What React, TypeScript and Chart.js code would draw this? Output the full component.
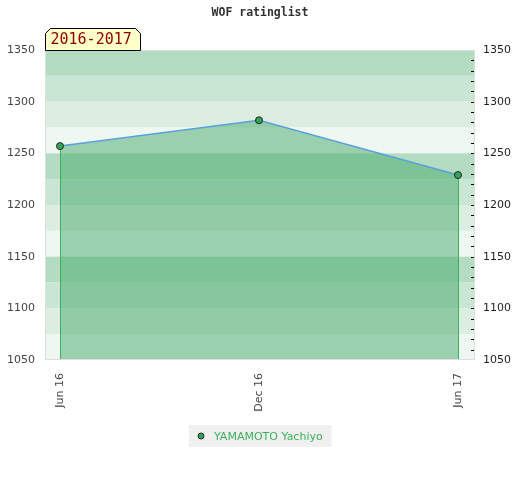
import React, { useEffect, useRef } from "react";
import { Chart, registerables } from "chart.js";

Chart.register(...registerables);

const chartTitle = "WOF ratinglist";
const periodLabel = "2016-2017";
const seriesName = "YAMAMOTO Yachiyo";
const categories = ["Jun 16", "Dec 16", "Jun 17"];
const xPositions = [0, 1, 2];
const ratings = [1257, 1282, 1229];
const yMin = 1050;
const yMax = 1350;
const majorStep = 50;
const bandStep = 25;
const minorStep = 10;
const bandColors = [
  "rgb(179,220,194)",
  "rgb(201,229,212)",
  "rgb(220,238,226)",
  "rgb(239,247,242)",
];

export default function App() {
  const canvasRef = useRef<HTMLCanvasElement | null>(null);

  useEffect(() => {
    document.body.style.margin = "0";
    const canvas = canvasRef.current;
    if (!canvas) return;

    const bandsPlugin = {
      id: "bands",
      beforeDatasetsDraw(chart: any) {
        const { ctx, chartArea } = chart;
        const y = chart.scales.y;
        ctx.save();
        let i = 0;
        for (let v = yMax; v > yMin; v -= bandStep) {
          const top = y.getPixelForValue(v);
          const bot = y.getPixelForValue(v - bandStep);
          ctx.fillStyle = bandColors[i % bandColors.length];
          ctx.fillRect(chartArea.left, top, chartArea.right - chartArea.left, bot - top);
          i++;
        }
        ctx.restore();
      },
    };

    const edgesPlugin = {
      id: "edges",
      beforeDatasetDraw(chart: any, args: any) {
        const meta = chart.getDatasetMeta(args.index);
        const pts = meta.data;
        if (!pts.length) return;
        const { ctx, chartArea } = chart;
        ctx.save();
        ctx.strokeStyle = "rgb(60,176,92)";
        ctx.lineWidth = 1;
        [pts[0], pts[pts.length - 1]].forEach((p: any) => {
          const x = Math.round(p.x) + 0.5;
          ctx.beginPath();
          ctx.moveTo(x, p.y);
          ctx.lineTo(x, chartArea.bottom);
          ctx.stroke();
        });
        ctx.restore();
      },
    };

    const decorPlugin = {
      id: "decor",
      afterDatasetsDraw(chart: any) {
        const { ctx, chartArea } = chart;
        ctx.save();
        ctx.strokeStyle = "rgb(221,221,221)";
        ctx.lineWidth = 1;
        ctx.strokeRect(
          Math.round(chartArea.left) + 0.5,
          Math.round(chartArea.top) + 0.5,
          Math.round(chartArea.right - chartArea.left) - 1,
          Math.round(chartArea.bottom - chartArea.top) - 1
        );
        const y2 = chart.scales.y2;
        ctx.strokeStyle = "#000";
        for (let v = yMin + minorStep; v < yMax; v += minorStep) {
          const py = Math.round(y2.getPixelForValue(v)) + 0.5;
          ctx.beginPath();
          ctx.moveTo(chartArea.right - 4, py);
          ctx.lineTo(chartArea.right - 1, py);
          ctx.stroke();
        }
        ctx.restore();
      },
      afterDraw(chart: any) {
        const { ctx, chartArea, width } = chart;
        ctx.save();
        ctx.font = "bold 11.5px 'DejaVu Sans Mono'";
        ctx.fillStyle = "rgb(50,50,50)";
        ctx.textAlign = "center";
        ctx.textBaseline = "middle";
        ctx.fillText(chartTitle, width / 2, 13);

        const x0 = chartArea.left + 0.5;
        const x1 = chartArea.left + 95.5;
        const y0 = 28.5;
        const y1 = chartArea.top + 0.5;
        const c = 5;
        ctx.beginPath();
        ctx.moveTo(x0, y1);
        ctx.lineTo(x0, y0 + c);
        ctx.lineTo(x0 + c, y0);
        ctx.lineTo(x1 - c, y0);
        ctx.lineTo(x1, y0 + c);
        ctx.lineTo(x1, y1);
        ctx.closePath();
        ctx.fillStyle = "rgb(255,255,200)";
        ctx.fill();
        ctx.strokeStyle = "#000";
        ctx.lineWidth = 1;
        ctx.stroke();
        ctx.font = "15px 'DejaVu Sans Mono'";
        ctx.fillStyle = "rgb(139,0,0)";
        ctx.textAlign = "left";
        ctx.textBaseline = "middle";
        ctx.fillText(periodLabel, x0 + 5, 40);

        ctx.font = "11px 'DejaVu Sans'";
        const tw = ctx.measureText(seriesName).width;
        const bw = tw + 34;
        const bl = Math.round(width / 2 - bw / 2);
        ctx.fillStyle = "rgb(240,240,240)";
        ctx.fillRect(bl, 425, bw, 22);
        ctx.beginPath();
        ctx.arc(bl + 12, 436, 3, 0, Math.PI * 2);
        ctx.fillStyle = "rgb(60,160,90)";
        ctx.fill();
        ctx.strokeStyle = "rgb(20,50,30)";
        ctx.stroke();
        ctx.fillStyle = "rgb(60,176,92)";
        ctx.textAlign = "left";
        ctx.textBaseline = "middle";
        ctx.fillText(seriesName, bl + 25, 437);
        ctx.restore();
      },
    };

    const chart = new Chart(canvas, {
      type: "line",
      data: {
        datasets: [
          {
            label: seriesName,
            data: xPositions.map((x, i) => ({ x, y: ratings[i] })),
            borderColor: "rgb(90,160,220)",
            borderWidth: 1.5,
            backgroundColor: "rgba(70,170,105,0.5)",
            fill: "start",
            tension: 0,
            pointRadius: 3.5,
            pointBackgroundColor: "rgb(60,160,90)",
            pointBorderColor: "rgb(20,50,30)",
            pointBorderWidth: 1,
          },
        ],
      },
      options: {
        animation: false,
        responsive: false,
        maintainAspectRatio: false,
        layout: { padding: { top: 50, bottom: 60, left: 0, right: 0 } },
        plugins: {
          legend: { display: false },
          title: { display: false },
          tooltip: { enabled: false },
        },
        scales: {
          x: {
            type: "linear",
            min: -0.0754,
            max: 2.0854,
            afterBuildTicks: (scale: any) => {
              scale.ticks = xPositions.map((value) => ({ value }));
            },
            afterFit: (scale: any) => {
              scale.height = 60;
            },
            grid: { display: false, drawTicks: true, tickLength: 8 },
            border: { display: false },
            ticks: {
              minRotation: 90,
              maxRotation: 90,
              autoSkip: false,
              padding: 5,
              color: "rgb(68,68,68)",
              font: { family: "'DejaVu Sans'", size: 11 },
              callback: (v: any) => categories[xPositions.indexOf(Number(v))] ?? "",
            },
          },
          y: {
            position: "left",
            min: yMin,
            max: yMax,
            afterFit: (scale: any) => {
              scale.width = 45;
            },
            grid: { display: false, drawTicks: false },
            border: { display: false },
            ticks: {
              stepSize: majorStep,
              padding: 10,
              color: "rgb(68,68,68)",
              font: { family: "'DejaVu Sans'", size: 11 },
              callback: (v: any) => String(v),
            },
          },
          y2: {
            position: "right",
            min: yMin,
            max: yMax,
            afterFit: (scale: any) => {
              scale.width = 45;
            },
            grid: { display: false, drawTicks: false },
            border: { display: false },
            ticks: {
              stepSize: majorStep,
              padding: 8,
              color: "rgb(30,30,30)",
              font: { family: "'DejaVu Sans'", size: 11 },
              callback: (v: any) => String(v),
            },
          },
        },
      },
      plugins: [bandsPlugin, edgesPlugin, decorPlugin],
    });

    return () => chart.destroy();
  }, []);

  return (
    <div style={{ width: 520, height: 480 }}>
      <canvas ref={canvasRef} width={520} height={480} style={{ width: 520, height: 480, display: "block" }} />
    </div>
  );
}
